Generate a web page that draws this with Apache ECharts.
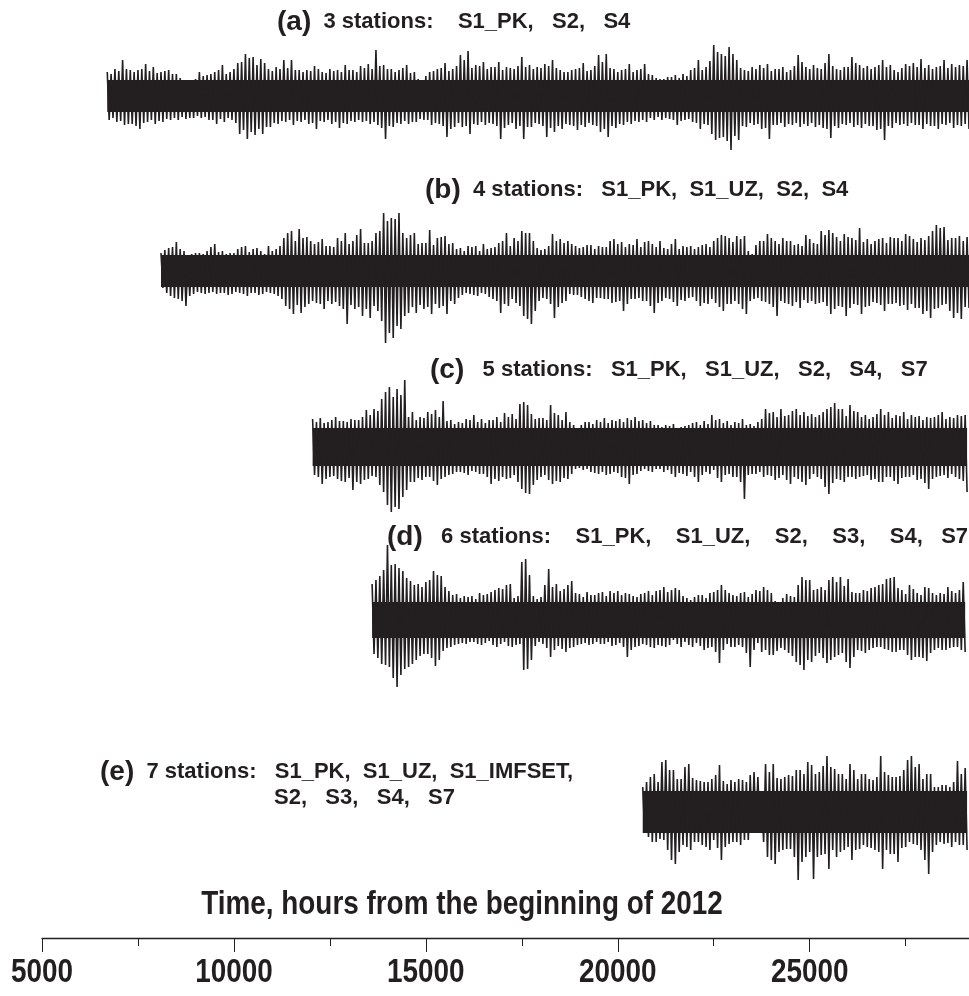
<!DOCTYPE html>
<html>
<head>
<meta charset="utf-8">
<script src="https://cdn.jsdelivr.net/npm/echarts@6/dist/echarts.min.js"></script>
<style>
  html, body { margin: 0; padding: 0; background: #fff; }
  #chart { width: 969px; height: 996px; }
</style>
</head>
<body>
<div id="chart"></div>
<script>
// Hours from the beginning of 2012. Each trace is read in 200 h windows:
// the main excursion at the window start and a second one 100 h later.
const sampleStep = 200;
const axisMin = 5000;
const axisMax = 29150;
const axisTicks = [5000, 10000, 15000, 20000, 25000];

// Station-set labels
const labelA = ['(a)', '  3 stations:    S1_PK,   S2,   S4'];
const labelB = ['(b)', '  4 stations:   S1_PK,  S1_UZ,  S2,  S4'];
const labelC = ['(c)', '   5 stations:   S1_PK,   S1_UZ,   S2,   S4,   S7'];
const labelD = ['(d)', '   6 stations:    S1_PK,    S1_UZ,    S2,    S3,    S4,   S7'];
const labelE = ['(e)', '  7 stations:   S1_PK,  S1_UZ,  S1_IMFSET,', 'S2,   S3,   S4,   S7'];
const axisTitle = 'Time, hours from the beginning of 2012';

// First sample time (hours) of each trace
const startA = 6700;
const startB = 8100;
const startC = 12050;
const startD = 13600;
const startE = 20650;

// (a) upper / lower excursions at window starts, then at window midpoints
const topA = [24,27,36,26,26,32,29,24,26,22,16,14,24,21,24,31,24,33,42,39,37,27,29,36,36,26,26,30,24,27,26,31,26,30,32,46,31,27,26,31,24,16,24,27,33,27,41,45,31,34,29,34,29,27,39,31,29,
              32,36,26,24,27,33,26,41,42,27,26,32,26,32,21,17,19,21,22,26,36,29,51,42,49,36,26,29,31,32,27,29,26,41,29,31,27,42,27,29,39,31,30,29,36,31,24,32,33,37,31,29,36,32,31,36];
const botA = [24,26,29,28,33,26,28,26,24,24,23,22,22,24,28,26,24,38,43,39,38,31,28,26,29,26,28,33,26,28,32,28,26,26,28,29,43,31,28,28,26,24,29,28,41,31,31,38,29,29,28,43,29,33,43,31,28,
              41,36,33,29,34,31,29,36,41,32,29,28,26,26,24,24,23,29,24,26,33,29,44,41,54,44,31,29,33,43,29,31,29,31,30,31,32,42,32,29,31,32,30,34,44,32,29,30,29,33,30,33,29,32,30,33];
const topMidA = [22,25,27,24,27,25,23,25,22,18,15,17,20,22,26,22,27,34,38,31,33,25,27,28,26,24,25,27,23,25,24,26,24,28,27,30,27,24,28,23,17,20,25,28,25,30,36,28,30,27,29,26,28,30,29,27,
                 28,
                 30,28,24,26,28,25,30,34,28,24,27,24,27,22,18,17,19,18,20,28,26,35,44,40,42,28,25,27,28,25,27,24,30,34,27,28,33,30,26,29,33,28,27,31,29,26,28,30,29,28,27,30,28,29,30];
const botMidA = [22,25,28,30,27,24,25,23,22,21,22,20,21,24,23,22,27,34,36,33,31,27,25,24,25,24,27,25,24,26,27,25,24,25,26,32,30,27,25,26,23,24,27,30,33,27,30,28,26,27,30,32,27,30,31,27,
                 30,
                 32,30,28,30,29,27,30,33,30,28,26,25,24,22,21,22,24,25,23,27,28,38,42,45,40,30,27,28,32,29,27,28,27,28,27,29,33,30,28,27,29,28,30,33,30,27,28,27,29,28,30,28,27,29,28];

// (b)
const topB = [18,23,29,20,17,18,20,27,20,18,22,25,22,20,25,22,33,40,42,34,27,32,25,33,38,30,42,28,38,58,53,58,33,38,28,41,33,35,28,23,25,25,27,23,28,38,33,40,38,23,22,37,32,
              30,25,24,26,25,24,32,29,27,32,29,27,30,22,32,25,25,24,27,30,36,33,35,35,17,30,37,30,33,30,27,36,28,40,41,34,37,33,43,32,30,33,34,33,37,32,33,35,46,44,33,35,34];
const botB = [17,25,28,35,23,22,22,23,22,23,22,25,22,23,22,25,35,43,42,33,32,38,33,35,53,38,45,47,40,72,67,58,42,42,38,43,37,43,33,24,23,25,23,28,42,35,32,45,53,30,28,47,32,
              23,24,28,32,27,28,31,40,28,27,30,42,30,28,35,30,26,35,33,32,40,33,33,43,28,30,33,45,32,35,37,32,33,31,43,35,45,33,43,35,32,40,33,35,39,37,43,47,37,33,47,48,37];
const topMidB = [21,24,22,12,18,17,24,19,17,18,24,19,23,17,20,25,38,30,33,30,29,25,24,30,27,36,28,30,40,50,52,38,36,27,28,26,34,27,22,20,24,20,22,24,30,25,30,38,30,21,25,30,
                 28,
                 27,23,26,22,24,30,27,24,26,24,30,24,23,27,22,24,22,26,24,33,35,29,32,20,26,30,33,27,30,26,25,32,27,36,38,30,34,31,29,27,32,28,33,30,35,29,31,40,43,31,33,30];
const botMidB = [22,27,30,25,21,23,21,22,24,21,23,22,24,21,23,28,38,34,36,30,33,30,31,38,34,36,38,35,50,62,55,45,36,34,36,33,35,30,27,22,24,22,26,30,33,28,35,48,40,27,33,36,
                 30,
                 24,26,30,27,28,32,30,33,28,30,35,32,27,31,29,27,30,32,28,36,33,30,38,30,27,31,36,30,33,31,29,30,32,35,38,36,37,34,36,31,34,33,32,34,33,37,40,38,34,40,42,36];

// (c)
const topC = [28,29,25,30,26,28,27,37,38,48,60,58,67,35,30,35,37,46,27,25,28,32,28,27,30,34,33,43,42,28,29,42,32,35,22,22,25,27,29,27,28,29,30,
              27,26,22,22,23,20,22,25,26,32,28,26,25,28,23,25,38,35,38,32,38,35,33,32,38,44,38,42,35,32,30,38,35,32,35,32,31,30,30,35,30,32,32];
const botC = [28,37,30,32,35,43,37,32,30,45,65,62,43,35,33,30,38,30,27,25,28,25,27,37,34,32,28,42,47,33,28,37,35,32,22,23,25,27,28,25,30,37,27,
              22,25,22,23,30,27,25,35,25,23,35,27,30,52,27,25,28,33,28,37,32,38,27,32,47,32,35,30,30,28,32,35,30,37,30,28,32,42,30,28,27,32,45];
const topMidC = [25,24,27,26,25,27,30,32,36,55,50,52,30,27,29,33,30,26,23,24,27,25,24,27,25,30,28,45,33,29,27,34,27,25,19,25,23,25,24,26,25,27,
                 26,
                 24,22,20,21,19,21,24,22,23,27,24,22,24,22,21,28,34,30,31,36,32,31,30,35,40,38,31,36,30,28,33,32,29,31,28,30,27,29,32,28,29,31];
const botMidC = [30,32,29,34,31,35,33,29,38,58,60,50,35,31,30,34,32,28,25,26,24,27,30,32,30,31,35,46,38,30,33,34,31,27,21,22,26,25,27,26,31,28,
                 24,
                 24,22,25,27,26,29,30,28,27,31,28,30,35,28,27,30,29,31,33,30,35,32,30,40,36,33,30,32,29,33,35,30,34,31,30,33,36,32,29,31,30,34];

// (d)
const topD = [36,44,75,56,49,39,36,38,49,44,29,26,24,24,27,26,30,31,36,24,61,24,23,51,36,31,39,26,28,25,28,29,29,27,24,26,29,29,33,
              30,30,22,23,25,27,30,30,25,27,23,30,33,27,15,26,23,43,40,31,30,43,43,41,27,30,32,35,41,43,30,35,27,33,27,27,33,27,38];
const botD = [34,44,47,67,49,44,36,34,46,31,27,24,24,22,25,21,27,22,27,24,49,26,24,37,26,32,27,24,25,22,24,26,23,37,27,24,27,25,27,
              20,27,25,23,30,27,43,24,27,27,47,23,30,35,28,33,42,50,42,33,43,37,33,48,30,33,28,27,30,32,30,40,37,41,30,30,28,27,32];
const topMidD = [40,50,55,52,42,35,33,40,45,33,25,22,23,21,25,28,32,35,22,58,45,21,35,33,29,35,27,23,25,27,24,27,25,26,23,27,25,30,
                 28,
                 32,24,20,25,22,28,35,27,24,28,26,29,30,19,22,24,35,40,30,33,40,38,34,28,27,29,33,36,42,32,26,31,25,32,25,26,29,30];
const botMidD = [38,45,58,55,47,40,34,38,40,28,25,23,22,24,23,25,24,26,25,50,40,22,28,30,29,28,25,23,24,24,22,25,27,30,26,25,28,26,
                 25,
                 24,22,27,26,28,32,30,27,25,33,30,32,35,31,30,36,45,40,36,38,40,35,42,37,31,30,27,29,32,30,35,37,38,33,28,30,27,30];

// (e)
const topE = [25,35,30,52,42,33,48,32,30,33,47,28,30,32,37,35,48,48,33,37,42,38,47,40,56,43,38,48,33,38,32,56,37,35,42,56,48,38,25,27,25,51,44];
const botE = [20,30,27,38,52,33,38,30,35,28,48,32,30,28,20,17,45,52,38,37,68,45,67,43,57,45,38,48,37,35,38,57,42,50,35,32,38,62,33,32,35,33,38];
const topMidE = [30,38,50,42,33,45,34,31,30,37,31,32,33,30,40,12,40,34,35,36,42,50,38,46,45,38,33,42,38,33,35,40,35,36,52,45,33,38,25,27,30,38];
const botMidE = [25,30,28,48,40,35,30,33,38,36,35,30,33,28,18,30,48,40,37,45,50,40,45,42,38,40,35,38,33,36,40,38,42,36,30,33,48,40,30,31,30,33];

const ink = '#231f20';
const sans = '"Liberation Sans", Arial, Helvetica, sans-serif';
const condense = 0.82;   // horizontal squeeze for the narrow axis lettering

// Trace layout: vertical centre (px) and solid-band half width (amplitude units)
const traces = [
  { start: startA, tops: topA, bots: botA, topsMid: topMidA, botsMid: botMidA, centre: 96,  band: 16 },
  { start: startB, tops: topB, bots: botB, topsMid: topMidB, botsMid: botMidB, centre: 271, band: 16 },
  { start: startC, tops: topC, bots: botC, topsMid: topMidC, botsMid: botMidC, centre: 447, band: 19 },
  { start: startD, tops: topD, bots: botD, topsMid: topMidD, botsMid: botMidD, centre: 620, band: 18 },
  { start: startE, tops: topE, bots: botE, topsMid: topMidE, botsMid: botMidE, centre: 812, band: 21 }
];
const halfRange = 80;

// Alternate upper and lower excursions so the stroke sweeps the full envelope
function sweep(tr) {
  const pts = [];
  const q = sampleStep / 4;
  for (let i = 0; i < tr.tops.length; i++) {
    const t = tr.start + i * sampleStep;
    pts.push([t, tr.tops[i]]);
    pts.push([t + q, -tr.bots[i]]);
    if (i < tr.topsMid.length) {
      pts.push([t + 2 * q, tr.topsMid[i]]);
      pts.push([t + 3 * q, -tr.botsMid[i]]);
    }
  }
  return pts;
}

const grid = [], xAxis = [], yAxis = [], series = [];
traces.forEach((tr, i) => {
  grid.push({ left: 42, right: 0, top: tr.centre - halfRange, height: halfRange * 2, outerBoundsMode: 'none' });
  xAxis.push({ gridIndex: i, type: 'value', min: axisMin, max: axisMax, show: false });
  yAxis.push({ gridIndex: i, type: 'value', min: -halfRange, max: halfRange, show: false });
  const end = tr.start + (tr.tops.length - 1) * sampleStep + sampleStep / 4;
  series.push({
    type: 'custom',
    xAxisIndex: i, yAxisIndex: i,
    silent: true,
    data: [[tr.start, end, tr.band]],
    renderItem(params, api) {
      const p0 = api.coord([api.value(0), api.value(2)]);
      const p1 = api.coord([api.value(1), -api.value(2)]);
      return {
        type: 'rect',
        shape: { x: p0[0], y: p0[1], width: p1[0] - p0[0], height: p1[1] - p0[1] },
        style: { fill: ink }
      };
    }
  });
  series.push({
    type: 'line',
    xAxisIndex: i, yAxisIndex: i,
    data: sweep(tr),
    showSymbol: false,
    symbol: 'none',
    sampling: null,
    animation: false,
    silent: true,
    lineStyle: { color: ink, width: 1.6 }
  });
});

// Bottom time axis (tick values are lettered separately below)
grid.push({ left: 42, right: 0, top: 900, height: 38, outerBoundsMode: 'none' });
xAxis.push({
  gridIndex: 5, type: 'value', min: axisMin, max: axisMax, interval: 5000,
  axisLine: { show: true, lineStyle: { color: ink, width: 1.3 } },
  axisTick: { show: true, length: 14, lineStyle: { color: ink, width: 1 } },
  minorTick: { show: true, splitNumber: 2, length: 8, lineStyle: { color: ink, width: 1 } },
  splitLine: { show: false },
  axisLabel: { show: false }
});
yAxis.push({ gridIndex: 5, type: 'value', show: false });

const chart = echarts.init(document.getElementById('chart'), null, { renderer: 'canvas' });
chart.setOption({
  animation: false,
  backgroundColor: '#ffffff',
  grid, xAxis, yAxis, series
});

function stationText(id, parts, x, y) {
  return {
    type: 'text', id, x, y,
    style: {
      text: '{p|' + parts[0] + '}{s|' + parts[1] + '}',
      verticalAlign: 'middle',
      rich: {
        p: { fontFamily: sans, fontWeight: 'bold', fontSize: 28, fill: ink },
        s: { fontFamily: sans, fontWeight: 'bold', fontSize: 22, fill: ink }
      }
    }
  };
}

const graphic = [
  stationText('la', labelA, 277, 22),
  stationText('lb', labelB, 425, 190),
  stationText('lc', labelC, 430, 370),
  stationText('ld', labelD, 387, 537),
  stationText('le', labelE, 100, 772),
  {
    type: 'text', id: 'le2', x: 274, y: 798,
    style: { text: labelE[2], fontFamily: sans, fontWeight: 'bold', fontSize: 22, fill: ink, verticalAlign: 'middle' }
  },
  {
    type: 'text', id: 'title', x: 462, y: 905, scaleX: condense,
    style: {
      text: axisTitle, fontFamily: sans, fontWeight: 'bold', fontSize: 34,
      fill: ink, align: 'center', verticalAlign: 'middle'
    }
  }
];

// Tick values placed through the time axis scale
axisTicks.forEach((v, i) => {
  graphic.push({
    type: 'text', id: 'tick' + i,
    x: chart.convertToPixel({ xAxisIndex: 5 }, v), y: 973, scaleX: condense,
    style: {
      text: String(v), fontFamily: sans, fontWeight: 'bold', fontSize: 34,
      fill: ink, align: 'center', verticalAlign: 'middle'
    }
  });
});

chart.setOption({ graphic });
</script>
</body>
</html>
